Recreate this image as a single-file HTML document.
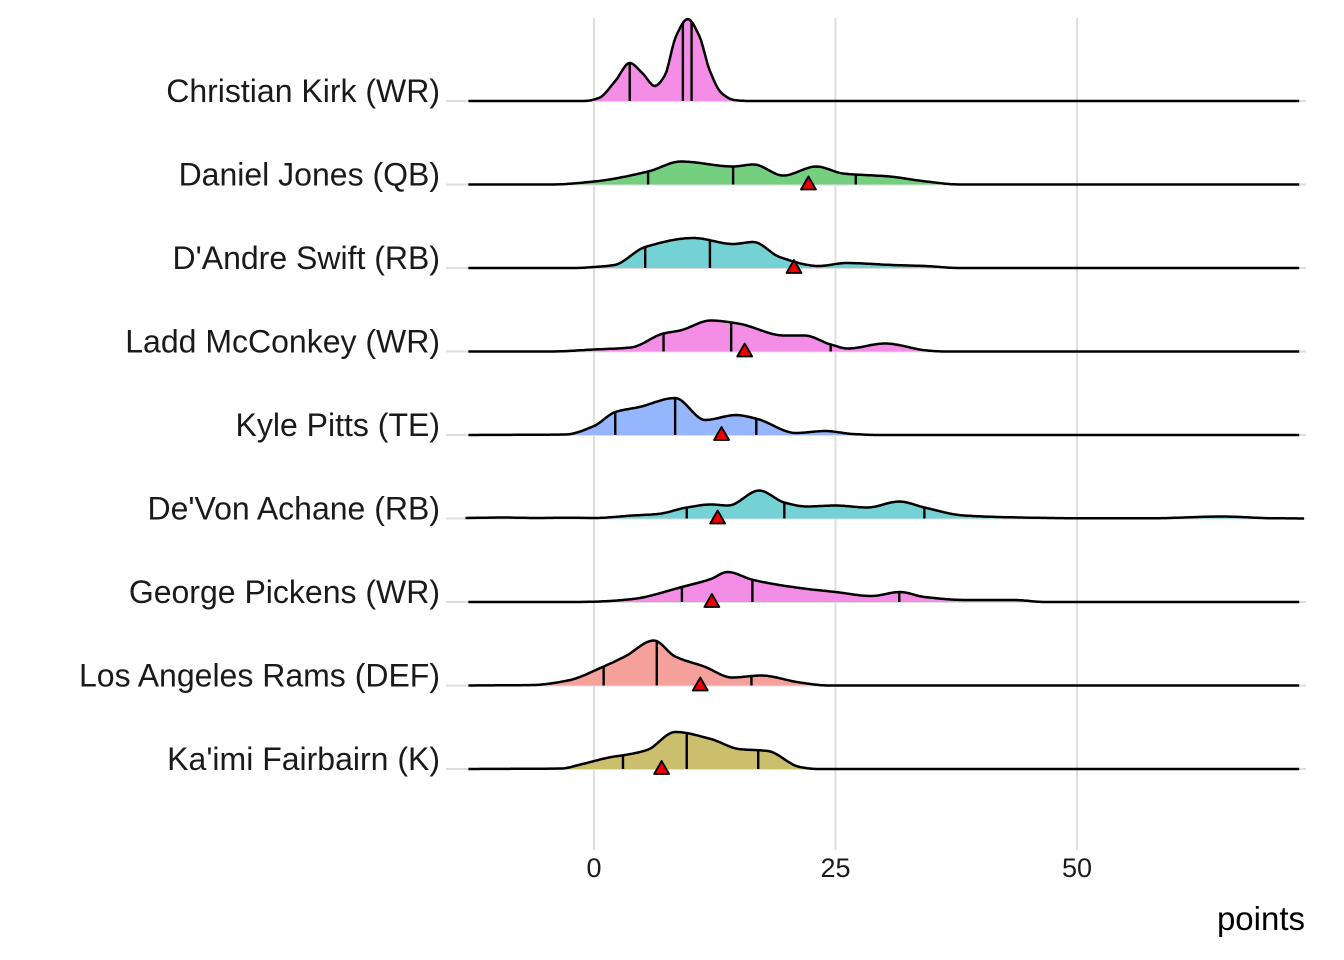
<!DOCTYPE html>
<html><head><meta charset="utf-8"><style>
html,body{margin:0;padding:0;background:#fff;}
svg{display:block;font-family:"Liberation Sans",Arial,sans-serif;}
</style></head><body>
<svg id="chart" width="1344" height="960" viewBox="0 0 1344 960" xmlns="http://www.w3.org/2000/svg">
<g id="grid"></g>
<g id="ridges"></g>
<g id="labels"></g>
<g id="xticks"></g>
<text x="1305" y="930" font-size="33" text-anchor="end" fill="#000">points</text>
</svg>
<script>
const players = ["Christian Kirk (WR)","Daniel Jones (QB)","D'Andre Swift (RB)","Ladd McConkey (WR)","Kyle Pitts (TE)","De'Von Achane (RB)","George Pickens (WR)","Los Angeles Rams (DEF)","Ka'imi Fairbairn (K)"];
const colors = ["#F48DE6","#74CF7E","#74D2D4","#F48DE6","#95B5FC","#74D2D4","#F48DE6","#F6A09B","#CBBE6C"];
const xTicks = [0,25,50];
// density knots (x in points, height in px-density units)
const kirkX = [-13,-1,0.5,2.2,3.7,5,6.3,7.3,8.5,9.7,10.9,12,13.2,14.5,16,73];
const kirkY = [0,0,3,20,38,28,15,25,65,82,65,30,8,1,0,0];
const jonesX = [-13,-4.5,0,5.6,9,14.4,16.5,19.6,23,25.8,30.6,34.4,37.9,73];
const jonesY = [0,0,3,13,23,18,20,9,18,11,8,3,0,0];
const swiftX = [-13,-2,0,2.1,5.3,10.3,14.4,16.5,19.2,23.3,26.1,30.9,34.3,37.8,73];
const swiftY = [0,0,1,3,21,30,24,26,11,2,5,3,2,0,0];
const laddX = [-13,-4.5,0,3.8,7.2,8.9,12.1,14.9,19.7,21.8,24.5,26.3,30.1,34.5,36.2,73];
const laddY = [0,0,2,4,18,21,31,28,16,16,7,3,8,1,0,0];
const pittsX = [-13,-3,0,2.2,4.7,8.4,11.5,14.7,16.9,20.9,23.9,26.8,29.4,73];
const pittsY = [0,0.5,9,23,28,37,15,20,16,2,4,1,0,0];
const achaneX = [-13.3,-9.3,-6,-2.7,0,4,6.6,9.6,12.1,13.9,17.1,19.7,22,25,28.3,31.6,34.2,38.3,44.1,50,58,65,70,73.5];
const achaneY = [0.5,1,0.5,0.8,0.5,3,4.5,11,14,13,28,16,12,13,11,17,11,3,1,0.3,0.3,2,0.3,0];
const pickensX = [-13,-2,0,4,9.1,12.1,13.8,16.5,21.3,25,28.7,31.7,34.2,38.6,41.6,43.5,46.7,73];
const pickensY = [0,0,0.3,3,15,23,30,22,14,10,6,10,5,2,2,2,0,0];
const ramsX = [-13,-6.3,-2.7,1,3.2,6.2,8.4,11.4,14.3,17.3,21.3,24.3,73];
const ramsY = [0,0.5,5,19,29,45,29,19,8,10,3,0,0];
const kaimiX = [-13,-3.4,-1.2,1.8,3.2,5.5,8.4,12.1,15,18,21.3,23.2,73];
const kaimiY = [0,0.5,5,12,14,19,37,30,20,18,2,0,0];
const densX = [kirkX,jonesX,swiftX,laddX,pittsX,achaneX,pickensX,ramsX,kaimiX];
const densY = [kirkY,jonesY,swiftY,laddY,pittsY,achaneY,pickensY,ramsY,kaimiY];
const quantiles = [[3.7,9.2,10.1],[5.6,14.4,27.1],[5.3,12.0],[7.2,14.2,24.5],[2.2,8.4,16.8],[9.6,19.7,34.2],[9.1,16.4,31.6],[1.0,6.5,16.3],[3.0,9.6,17.0]];
const projections = [null,22.2,20.7,15.6,13.2,12.8,12.2,11.0,7.0];

const NS="http://www.w3.org/2000/svg";
const X0=594, PX=9.66, XMIN=-13.4, XMAX=73.6;
const rowTop=101, rowStep=83.5;
function xs(v){return X0+v*PX;}
function rowY(i){return rowTop+i*rowStep;}
function mk(tag,attrs,parent){const e=document.createElementNS(NS,tag);for(const k in attrs)e.setAttribute(k,attrs[k]);parent.appendChild(e);return e;}
// monotone cubic (Fritsch-Carlson) sampling
function sample(X,Y){
  const n=X.length, h=[], dl=[], m=new Array(n).fill(0);
  for(let i=0;i<n-1;i++){h.push(X[i+1]-X[i]);dl.push((Y[i+1]-Y[i])/h[i]);}
  m[0]=dl[0];m[n-1]=dl[n-2];
  for(let i=1;i<n-1;i++){
    if(dl[i-1]*dl[i]<=0)m[i]=0;
    else{const w1=2*h[i]+h[i-1],w2=h[i]+2*h[i-1];m[i]=(w1+w2)/(w1/dl[i-1]+w2/dl[i]);}
  }
  const pts=[];
  for(let i=0;i<n-1;i++){
    const steps=Math.max(4,Math.ceil(h[i]*PX/2));
    for(let k=0;k<steps;k++){
      const t=k/steps,t2=t*t,t3=t2*t;
      const y=(2*t3-3*t2+1)*Y[i]+(t3-2*t2+t)*h[i]*m[i]+(-2*t3+3*t2)*Y[i+1]+(t3-t2)*h[i]*m[i+1];
      pts.push([X[i]+t*h[i],Math.max(0,y)]);
    }
  }
  pts.push([X[n-1],Y[n-1]]);
  return pts;
}
function hAt(pts,v){
  for(let i=0;i<pts.length-1;i++){if(pts[i][0]<=v&&pts[i+1][0]>=v){const t=(v-pts[i][0])/((pts[i+1][0]-pts[i][0])||1);return pts[i][1]+t*(pts[i+1][1]-pts[i][1]);}}
  return 0;
}
const grid=document.getElementById('grid');
xTicks.forEach(t=>{
  const l=mk('line',{x1:xs(t),x2:xs(t),y1:18,y2:850,stroke:'#dedede','stroke-width':2},grid);
  
  
  const tx=mk('text',{x:xs(t),y:877,'font-size':27,'text-anchor':'middle',fill:'#1a1a1a'},document.getElementById('xticks'));
  tx.textContent=t;
  
  
});
players.forEach((p,i)=>{
  const l=mk('line',{x1:446,x2:1306,y1:rowY(i),y2:rowY(i),stroke:'#dedede','stroke-width':2},grid);
  
  
});
const ridges=document.getElementById('ridges');
players.forEach((p,i)=>{
  const b=rowY(i);
  const g=mk('g',{},ridges);
  
  
  let pts=sample(densX[i],densY[i]).filter(q=>q[0]>=XMIN&&q[0]<=XMAX);
  let d='M'+xs(pts[0][0]).toFixed(1)+','+b;
  pts.forEach(q=>{d+=' L'+xs(q[0]).toFixed(1)+','+(b-q[1]).toFixed(1);});
  const fillD=d+' L'+xs(pts[pts.length-1][0]).toFixed(1)+','+b+' Z';
  const f=mk('path',{d:fillD,fill:colors[i],stroke:'none'},g);
  
  
  quantiles[i].forEach(q=>{
    const ql=mk('line',{x1:xs(q),x2:xs(q),y1:b,y2:b-hAt(pts,q),stroke:'#000','stroke-width':2.4},g);
    
    
  });
  let ld='M'+xs(pts[0][0]).toFixed(1)+','+(b-pts[0][1]).toFixed(1);
  pts.forEach(q=>{ld+=' L'+xs(q[0]).toFixed(1)+','+(b-q[1]).toFixed(1);});
  const ln=mk('path',{d:ld,fill:'none',stroke:'#000','stroke-width':2.5,'stroke-linejoin':'round'},g);
  
  
  if(projections[i]!==null){
    const cx=xs(projections[i]);
    const tr=mk('path',{d:`M${cx-7.5},${b+5} L${cx+7.5},${b+5} L${cx},${b-8} Z`,fill:'#ee0000',stroke:'#000','stroke-width':1.8,'stroke-linejoin':'round'},g);
    
    
  }
  const t=mk('text',{x:440,y:b+1,'font-size':32,'text-anchor':'end',fill:'#1a1a1a'},document.getElementById('labels'));
  t.textContent=p;
  
  
});
</script>
</body></html>
